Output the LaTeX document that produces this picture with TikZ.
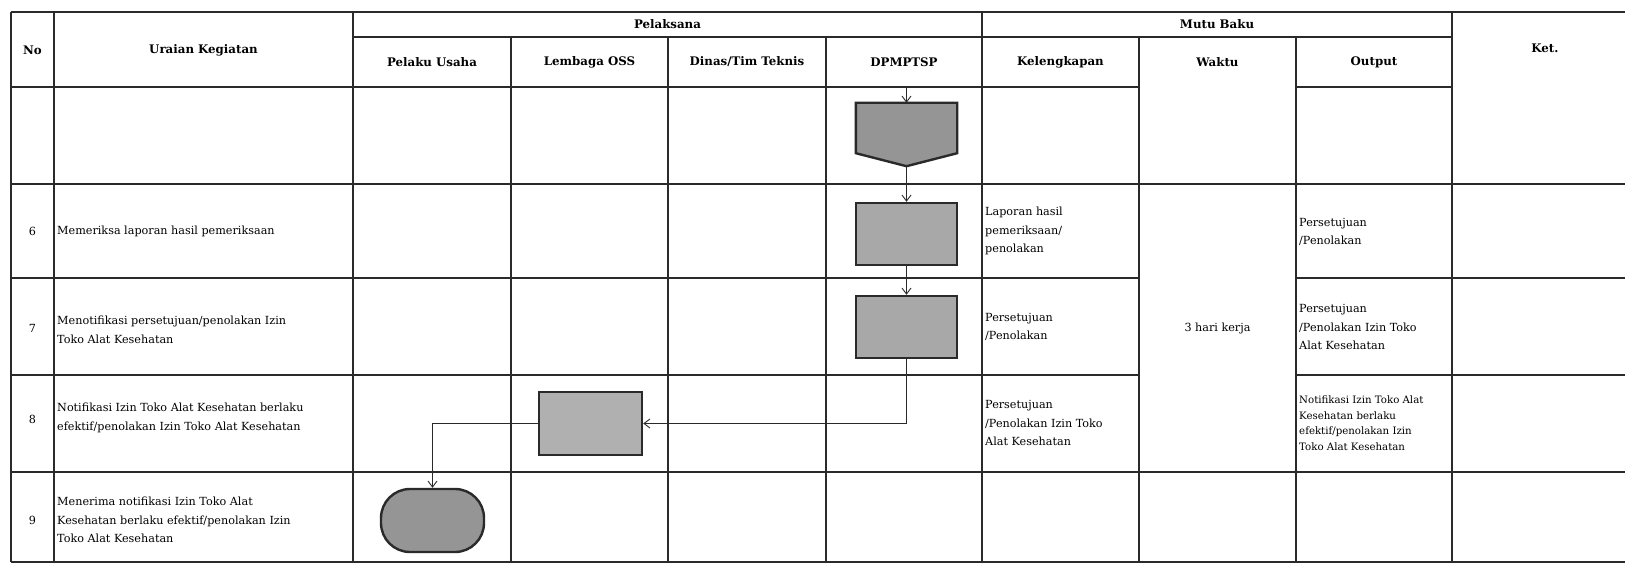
\documentclass[tikz,border=0pt]{standalone}
\usepackage{fontspec}
\setmainfont{DejaVu Serif}
\usetikzlibrary{arrows.meta,calc}
\definecolor{gridc}{HTML}{2A2A2A}
\definecolor{boxfill}{HTML}{A8A8A8}
\definecolor{darkfill}{HTML}{959595}
\definecolor{ossfill}{HTML}{B0B0B0}
\begin{document}
\begin{tikzpicture}[x=1pt,y=-1pt,
  grid/.style={line width=1.6pt,draw=gridc},
  hdr/.style={font=\fontsize{11.8}{14}\selectfont\bfseries,inner sep=0pt},
  txt/.style={font=\fontsize{11.2}{18.5}\selectfont,align=left,anchor=west,inner sep=0pt},
  smalltxt/.style={font=\fontsize{10.2}{15.5}\selectfont,align=left,anchor=west,inner sep=0pt},
  num/.style={font=\fontsize{11.2}{14}\selectfont,inner sep=0pt},
  shapeline/.style={draw=gridc,line width=2.4pt},
  procbox/.style={shapeline,fill=boxfill,minimum width=101,minimum height=62,inner sep=0pt},
  termbox/.style={shapeline,fill=darkfill,minimum width=103,minimum height=63,inner sep=0pt,rounded corners=29pt},
  flow/.style={draw=gridc,line width=0.9pt,-{Straight Barb[length=6pt,width=9pt]}}
]
\useasboundingbox (0,0) rectangle (1625,564);
\clip (0,0) rectangle (1625,564);
\fill[white] (0,0) rectangle (1625,564);

% ---- grid: horizontal lines
\draw[grid] (11,12) -- (1640,12);
\draw[grid] (353,37) -- (1452,37);
\draw[grid] (11,87) -- (1139,87);
\draw[grid] (1296,87) -- (1452,87);
\draw[grid] (11,184) -- (1640,184);
\draw[grid] (11,278) -- (1139,278);
\draw[grid] (1296,278) -- (1640,278);
\draw[grid] (11,375) -- (1139,375);
\draw[grid] (1296,375) -- (1640,375);
\draw[grid] (11,472) -- (1640,472);
\draw[grid] (11,562) -- (1640,562);
% ---- grid: vertical lines
\foreach \x in {11,54,353,982,1452}{\draw[grid] (\x,12) -- (\x,562);}
\foreach \x in {511,668,826,1139,1296}{\draw[grid] (\x,37) -- (\x,562);}
\draw[grid] (1640,12) -- (1640,562);

% ---- headers
\node[hdr] (hNo) at (32.5,50) {No};
\node[hdr] (hUr) at (203.5,50) {Uraian Kegiatan};
\node[hdr] (hPel) at (667.5,24) {Pelaksana};
\node[hdr] (hMB) at (1217,24) {Mutu Baku};
\node[hdr] (hKet) at (1545,48) {Ket.};
\node[hdr] (hPU) at (432,62) {Pelaku Usaha};
\node[hdr] (hOSS) at (589.5,62) {Lembaga OSS};
\node[hdr] (hDin) at (747,62) {Dinas/Tim Teknis};
\node[hdr] (hDP) at (904,62) {DPMPTSP};
\node[hdr] (hKel) at (1060.5,62) {Kelengkapan};
\node[hdr] (hWak) at (1217.5,62) {Waktu};
\node[hdr] (hOut) at (1374,62) {Output};

% ---- row numbers
\node[num] (n6) at (32.5,231) {6};
\node[num] (n7) at (32.5,328) {7};
\node[num] (n8) at (32.5,419) {8};
\node[num] (n9) at (32.5,520) {9};

% ---- activity descriptions
\node[txt] (u6) at (57,231) {Memeriksa laporan hasil pemeriksaan};
\node[txt] (u7) at (57,330) {Menotifikasi persetujuan/penolakan Izin\\Toko Alat Kesehatan};
\node[txt] (u8) at (57,418) {Notifikasi Izin Toko Alat Kesehatan berlaku\\efektif/penolakan Izin Toko Alat Kesehatan};
\node[txt] (u9) at (57,520) {Menerima notifikasi Izin Toko Alat\\Kesehatan berlaku efektif/penolakan Izin\\Toko Alat Kesehatan};

% ---- kelengkapan
\node[txt] (k6) at (985,231) {Laporan hasil\\pemeriksaan/\\penolakan};
\node[txt] (k7) at (985,327) {Persetujuan\\/Penolakan};
\node[txt] (k8) at (985,423) {Persetujuan\\/Penolakan Izin Toko\\Alat Kesehatan};
% ---- waktu
\node[txt,anchor=center] (w) at (1217.5,328) {3 hari kerja};
% ---- output
\node[txt] (o6) at (1299,232) {Persetujuan\\/Penolakan};
\node[txt] (o7) at (1299,327) {Persetujuan\\/Penolakan Izin Toko\\Alat Kesehatan};
\node[smalltxt] (o8) at (1299,423) {Notifikasi Izin Toko Alat\\Kesehatan berlaku\\efektif/penolakan Izin\\Toko Alat Kesehatan};

% ---- flow shapes
\node[minimum width=101,minimum height=63,inner sep=0pt] (p5) at (906.5,134.5) {};
\draw[shapeline,fill=darkfill,line join=miter]
  (p5.north west) -- (p5.north east) -- ([yshift=13pt]p5.south east)
  -- (p5.south) -- ([yshift=13pt]p5.south west) -- cycle;
\node[procbox] (b6) at (906.5,234) {};
\node[procbox] (b7) at (906.5,327) {};
\node[procbox,fill=ossfill,minimum width=103,minimum height=63] (b8) at (590.5,423.5) {};
\node[termbox] (t9) at (432.5,520.5) {};

% ---- connectors
\coordinate (a0) at (906.5,87);
\draw[flow] (a0) -- (p5.north);
\draw[flow] (p5.south) -- (b6.north);
\draw[flow] (b6.south) -- (b7.north);
\draw[flow] (b7.south) |- (b8.east);
\draw[flow] (b8.west) -| (t9.north);
\end{tikzpicture}
\end{document}
